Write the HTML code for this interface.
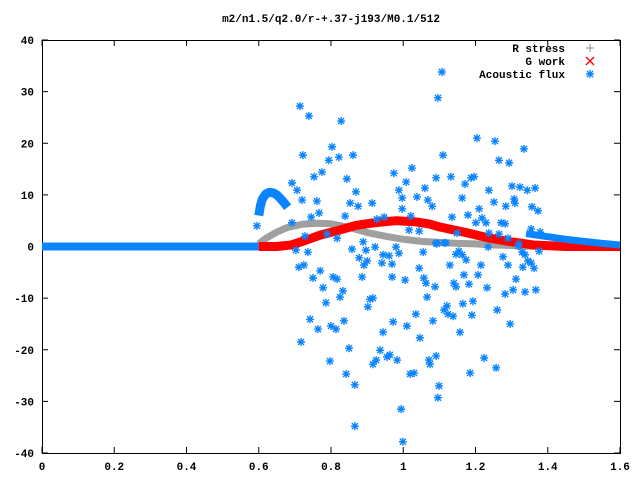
<!DOCTYPE html>
<html><head><meta charset="utf-8"><style>
body{margin:0;background:#fff;}
svg text{font-family:"Liberation Mono",monospace;font-size:11px;font-weight:bold;fill:#000;}
</style></head><body>
<svg id="chart" width="640" height="480" viewBox="0 0 640 480" xmlns="http://www.w3.org/2000/svg">
<rect width="640" height="480" fill="#fff"/>
<text x="331" y="22" text-anchor="middle">m2/n1.5/q2.0/r-+.37-j193/M0.1/512</text>
<g id="axes"></g>
<g id="series"></g>
<g id="legend">
<text x="565" y="52" text-anchor="end">R stress</text>
<text x="565" y="65" text-anchor="end">G work</text>
<text x="565" y="78" text-anchor="end">Acoustic flux</text>
</g>
</svg>
<script>
const xTicks=[0,0.2,0.4,0.6,0.8,1,1.2,1.4,1.6];
const xTickLabels=["0","0.2","0.4","0.6","0.8","1","1.2","1.4","1.6"];
const yTicks=[-40,-30,-20,-10,0,10,20,30,40];
const yTickLabels=["-40","-30","-20","-10","0","10","20","30","40"];
const rStressX=[0.6,0.62,0.65,0.68,0.72,0.76,0.8,0.85,0.9,0.95,1.0,1.05,1.1,1.15,1.2,1.25,1.3,1.35,1.4,1.5,1.6];
const rStressY=[0.5,1.6,2.8,3.7,4.3,4.5,4.4,3.7,2.7,2.0,1.4,1.0,0.8,0.6,0.5,0.3,0.2,0.05,0,0,0];
const gWorkX=[0.6,0.65,0.69,0.73,0.77,0.825,0.87,0.92,0.98,1.03,1.07,1.1,1.18,1.24,1.3,1.36,1.45,1.6];
const gWorkY=[0,0,0.3,1.2,2.2,3.2,4.1,4.6,5.0,4.8,4.4,3.8,2.6,1.6,0.9,0.3,0,0];
const fluxBaseX=[0,0.6];
const fluxBaseY=[0,0];
const fluxHumpX=[0.6,0.605,0.61,0.62,0.63,0.64,0.65,0.66,0.67,0.68];
const fluxHumpY=[6.0,8.0,9.2,10.2,10.5,10.4,10.0,9.3,8.5,7.6];
const fluxTailX=[1.34,1.38,1.42,1.46,1.5,1.55,1.6];
const fluxTailY=[2.5,2.1,1.7,1.3,1.0,0.6,0.3];
const fluxPoints=[[.714,27.2],[.739,25.3],[.828,24.3],[.803,19.3],[.722,17.7],[.794,16.7],[.822,17.3],[.861,17.7],[.775,14.4],[.753,13.5],[.844,13.1],[.692,12.3],[.706,10.9],[.720,9.0],[.761,8.8],[.869,10.6],[.853,8.4],[.875,7.8],[.914,8.4],[.974,14.2],[1.024,15.2],[1.008,12.5],[.988,10.9],[.997,9.4],[1.038,9.6],[1.060,11.3],[1.068,9.0],[1.080,7.8],[1.091,13.3],[.997,7.3],[1.096,28.8],[.745,5.7],[.767,6.5],[.839,5.9],[.692,4.6],[.595,4.0],[.927,5.3],[.947,5.7],[1.021,5.9],[.728,2.0],[.789,2.4],[.817,1.6],[.889,0.9],[1.016,3.2],[1.044,3.0],
[1.107,33.8],[1.204,21.0],[1.254,20.4],[1.334,18.9],[1.110,17.7],[1.265,16.7],[1.293,16.2],[1.132,13.5],[1.188,13.3],[1.196,13.5],[1.171,12.1],[1.301,11.7],[1.323,11.5],[1.343,10.9],[1.365,11.3],[1.237,10.9],[1.163,9.4],[1.251,8.6],[1.284,7.8],[1.307,9.2],[1.309,8.4],[1.356,7.7],[1.373,6.9],[1.210,7.3],[1.179,6.1],[1.135,5.7],[1.218,5.5],[1.201,4.6],[1.229,4.6],[1.271,4.6],[1.282,4.4],[1.149,2.6],[1.237,2.6],[1.265,2.4],[1.354,3.4],[1.379,2.8],[1.290,1.6],[1.091,0.7],[1.113,0.7],[1.320,0.5],
[.703,-0.7],[.736,-1.1],[.858,-0.5],[.922,-0.1],[.897,-0.7],[.878,-2.2],[.900,-2.8],[.891,-3.6],[.944,-1.6],[.961,-1.8],[.980,-0.1],[.988,-1.3],[1.055,-1.1],[.941,-3.2],[.969,-3.4],[.711,-4.0],[.725,-3.6],[.770,-4.7],[.750,-6.1],[.806,-5.9],[.817,-6.3],[.886,-5.9],[.969,-5.9],[1.005,-6.5],[1.044,-4.2],[1.057,-6.1],[1.063,-7.1],[1.088,-7.8],[.778,-8.0],[.833,-8.6],[.825,-9.8],[.908,-10.2],[.916,-10.0],[.902,-11.7],[1.066,-9.8],[.786,-10.9],[1.035,-13.1],[.742,-14.1],[.836,-14.4],[.972,-14.6],[1.082,-14.4],[.764,-16.0],[.800,-15.4],[.814,-16.0],[1.010,-15.4],[.944,-16.6],[1.046,-17.7],[.717,-18.5],[.850,-19.7],[.936,-20.1],[.955,-21.4],[.963,-21.0],[.983,-22.0],[.925,-22.0],[.916,-22.8],[.797,-22.2],[1.071,-22.0],[1.074,-22.8],[1.091,-21.2],[.842,-24.7],[1.019,-24.7],[1.030,-24.5],[.866,-26.8],[1.099,-27.0],[1.096,-29.3],[.994,-31.5],[.866,-34.8],[.999,-37.8],
[1.093,0.5],[1.118,0.7],[1.235,-0.1],[1.146,-1.5],[1.154,-0.9],[1.163,-1.6],[1.174,-2.6],[1.129,-3.6],[1.215,-3.6],[1.276,-2.0],[1.290,-3.6],[1.318,0.1],[1.329,-1.1],[1.337,-1.6],[1.345,-2.8],[1.354,-3.2],[1.362,-4.2],[1.331,-4.0],[1.376,-0.9],[1.168,-5.5],[1.207,-5.5],[1.140,-7.1],[1.146,-7.8],[1.182,-7.3],[1.232,-8.0],[1.312,-6.3],[1.304,-8.4],[1.282,-9.2],[1.337,-8.8],[1.367,-8.4],[1.193,-10.6],[1.165,-11.1],[1.121,-11.5],[1.113,-12.3],[1.124,-13.1],[1.138,-13.5],[1.190,-13.3],[1.260,-12.3],[1.296,-15.0],[1.157,-16.6],[1.224,-21.6],[1.257,-23.5],[1.185,-24.5]];

const L=42,R=620,T=40,B=453,XMIN=0,XMAX=1.6,YMIN=-40,YMAX=40;
const sx=v=>L+(v-XMIN)/(XMAX-XMIN)*(R-L);
const sy=v=>B-(v-YMIN)/(YMAX-YMIN)*(B-T);
const NS="http://www.w3.org/2000/svg";
function mk(tag,attrs,parent){const e=document.createElementNS(NS,tag);for(const k in attrs)e.setAttribute(k,attrs[k]);parent.appendChild(e);return e;}
const axes=document.getElementById('axes');
const series=document.getElementById('series');

xTicks.forEach((t,i)=>{
  const x=sx(t);
  const tk=mk('path',{d:`M${x},${B}v-6M${x},${T}v6`,stroke:'#000','stroke-width':1},axes);
  
  
  const lb=mk('text',{x:x,y:470,'text-anchor':'middle'},axes);
  lb.textContent=xTickLabels[i];
  
  
});
yTicks.forEach((t,i)=>{
  const y=sy(t);
  const tk=mk('path',{d:`M${L},${y}h6M${R},${y}h-6`,stroke:'#000','stroke-width':1},axes);
  
  
  const lb=mk('text',{x:34,y:y+4,'text-anchor':'end'},axes);
  lb.textContent=yTickLabels[i];
  
  
});
const frame=mk('rect',{x:L+0.5,y:T+0.5,width:R-L,height:B-T,fill:'none',stroke:'#000','stroke-width':1},axes);



const BLUE='#0a84ff',GREY='#a0a0a0',RED='#ff0000';
function band(xs,ys,color,w,name){
  const d=xs.map((x,i)=>(i?'L':'M')+sx(x)+','+sy(ys[i])).join('');
  const p=mk('path',{d:d,fill:'none',stroke:color,'stroke-width':w,'stroke-linejoin':'round'},series);
  
  
}
band(fluxBaseX,fluxBaseY,BLUE,8,'acoustic-flux-baseline');
band(rStressX,rStressY,GREY,7,'r-stress-series');
band(gWorkX,gWorkY,RED,9,'g-work-series');
band(fluxHumpX,fluxHumpY,BLUE,9,'acoustic-flux-hump');
band(fluxTailX,fluxTailY,BLUE,7,'acoustic-flux-tail');

const star='M-4,0h8M0,-4v8M-3,-3l6,6M-3,3l6,-6';
fluxPoints.forEach(p=>{
  const s=mk('path',{d:star,transform:`translate(${sx(p[0])},${sy(p[1])})`,stroke:BLUE,'stroke-width':1.4,fill:'none'},series);
  
  
});

const lg=document.getElementById('legend');
const m1=mk('path',{d:'M586,48h8M590,44v8',stroke:GREY,'stroke-width':1.3},lg);


const m2=mk('path',{d:'M586,57l8,8M586,65l8,-8',stroke:RED,'stroke-width':1.3},lg);


const m3=mk('path',{d:star,transform:'translate(590,74)',stroke:BLUE,'stroke-width':1.4,fill:'none'},lg);


</script>
</body></html>
